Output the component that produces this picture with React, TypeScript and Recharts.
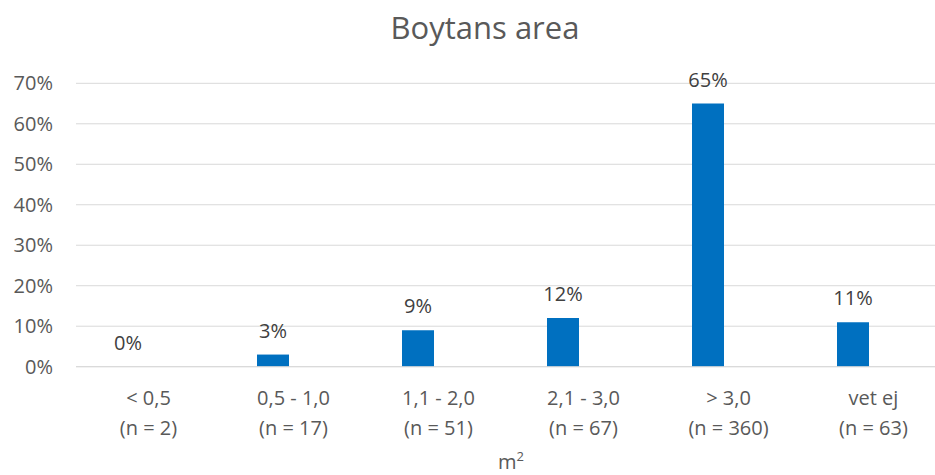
import { BarChart, Bar, XAxis, YAxis, CartesianGrid, LabelList } from 'recharts';

const categories = ['< 0,5', '0,5 - 1,0', '1,1 - 2,0', '2,1 - 3,0', '> 3,0', 'vet ej'];
const counts = [2, 17, 51, 67, 360, 63];
const shares = [0, 0.03, 0.09, 0.12, 0.65, 0.11];
const yTicks = [0, 0.1, 0.2, 0.3, 0.4, 0.5, 0.6, 0.7];

const FONT = '"Open Sans", sans-serif';
const GREY = '#595959';

// second, empty series keeps the Excel-style left offset of the bars
const data = categories.map((name, i) => ({
  name,
  n: counts[i],
  share: shares[i],
  blank: null as number | null,
}));

const pct = (v: any) => `${Math.round(Number(v) * 100)}%`;

function CategoryTick({ x, y, payload, index }: any) {
  return (
    <text x={x} textAnchor="middle" fill={GREY} fontSize={20} fontFamily={FONT}>
      <tspan x={x} y={y + 38.5}>{payload.value}</tspan>
      <tspan x={x} y={y + 68.5}>{`(n = ${counts[index]})`}</tspan>
    </text>
  );
}

export default function App() {
  return (
    <div style={{ position: 'absolute', left: 0, top: 0, width: 935, height: 475, overflow: 'hidden', background: '#fff' }}>
      <BarChart
        width={950}
        height={475}
        data={data}
        margin={{ top: 83.3, right: 4, bottom: 0, left: 0 }}
        barSize={32}
        barGap={9}
      >
        <CartesianGrid vertical={false} stroke="#d9d9d9" />
        <XAxis
          dataKey="name"
          height={108.3}
          tickLine={false}
          tickSize={0}
          tickMargin={0}
          axisLine={{ stroke: '#d9d9d9' }}
          tick={<CategoryTick />}
          interval={0}
        />
        <YAxis
          width={76}
          domain={[0, 0.7]}
          ticks={yTicks}
          tickFormatter={pct}
          axisLine={false}
          tickLine={false}
          tickSize={0}
          tickMargin={23}
          tick={{ fill: GREY, fontSize: 20, fontFamily: FONT }}
        />
        <Bar dataKey="share" fill="#0070C0" minPointSize={0.01} isAnimationActive={false}>
          <LabelList
            dataKey="share"
            position="top"
            offset={17}
            formatter={pct}
            fill="#404040"
            fontSize={20}
            fontFamily={FONT}
          />
        </Bar>
        <Bar dataKey="blank" fill="#ED7D31" isAnimationActive={false} />
      </BarChart>
      <svg width={935} height={475} style={{ position: 'absolute', left: 0, top: 0, pointerEvents: 'none' }}>
        <text x={485} y={39} textAnchor="middle" fill={GREY} fontSize={31} fontFamily={FONT}>
          Boytans area
        </text>
        <text x={511} y={469} textAnchor="middle" fill={GREY} fontSize={20} fontFamily={FONT}>
          m<tspan dy={-8} fontSize={13}>2</tspan>
        </text>
      </svg>
    </div>
  );
}
